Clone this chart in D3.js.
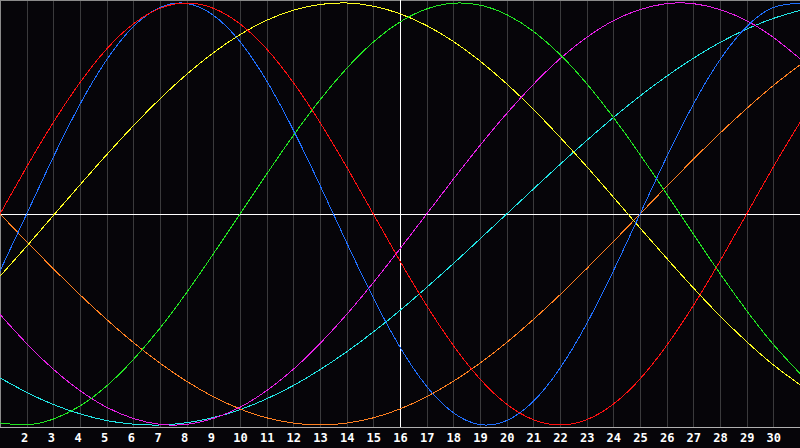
<!DOCTYPE html>
<html><head><meta charset="utf-8">
<script src="https://cdn.jsdelivr.net/npm/d3@7"></script>
<style>
html,body{margin:0;padding:0;background:#060509;}
svg{display:block;}
</style></head>
<body>
<svg id="chart" width="800" height="448"></svg>
<script>
const days = d3.range(1, 32);
const tickLabels = [2,3,4,5,6,7,8,9,10,11,12,13,14,15,16,17,18,19,20,21,22,23,24,25,26,27,28,29,30];
const todayMark = 16;

const physical = [-0.270,0,0.270,0.520,0.731,0.888,0.979,0.998,0.942,0.817,0.631,0.398,0.136,-0.136,-0.398,-0.631,-0.817,-0.942,-0.998,-0.979,-0.888,-0.731,-0.520,-0.270,0,0.270,0.520,0.731,0.888,0.979,0.998];
const emotional = [0,0.223,0.434,0.623,0.782,0.901,0.975,1,0.975,0.901,0.782,0.623,0.434,0.223,0,-0.223,-0.434,-0.623,-0.782,-0.901,-0.975,-1,-0.975,-0.901,-0.782,-0.623,-0.434,-0.223,0,0.223,0.434];
const intellectual = [-0.990,-0.999,-0.972,-0.910,-0.815,-0.690,-0.541,-0.372,-0.189,0,0.189,0.372,0.541,0.690,0.815,0.910,0.972,0.999,0.990,0.945,0.866,0.756,0.618,0.458,0.282,0.095,-0.095,-0.282,-0.458,-0.618,-0.756];
const intuitive = [-0.476,-0.614,-0.736,-0.837,-0.916,-0.969,-0.997,-0.997,-0.969,-0.916,-0.837,-0.736,-0.614,-0.476,-0.325,-0.165,0,0.165,0.325,0.476,0.614,0.736,0.837,0.916,0.969,0.997,0.997,0.969,0.916,0.837,0.736];
const aesthetic = [-0.295,-0.153,-0.007,0.138,0.281,0.418,0.546,0.662,0.764,0.850,0.918,0.966,0.993,1.000,0.985,0.949,0.893,0.818,0.725,0.617,0.496,0.364,0.225,0.080,-0.066,-0.210,-0.350,-0.483,-0.605,-0.715,-0.809];
const awareness = [0,-0.131,-0.259,-0.383,-0.500,-0.609,-0.707,-0.793,-0.866,-0.924,-0.966,-0.991,-1,-0.991,-0.966,-0.924,-0.866,-0.793,-0.707,-0.609,-0.500,-0.383,-0.259,-0.131,0,0.131,0.259,0.383,0.500,0.609,0.707];
const spiritual = [-0.777,-0.845,-0.903,-0.947,-0.979,-0.996,-1.000,-0.989,-0.965,-0.927,-0.876,-0.813,-0.738,-0.653,-0.559,-0.457,-0.348,-0.235,-0.118,0,0.118,0.235,0.348,0.457,0.559,0.653,0.738,0.813,0.876,0.927,0.965];

const series = [
  {name:"spiritual", values:spiritual, color:"#22e6e6"},
  {name:"awareness", values:awareness, color:"#ff8020"},
  {name:"aesthetic", values:aesthetic, color:"#ffff20"},
  {name:"intuitive", values:intuitive, color:"#e620e6"},
  {name:"intellectual", values:intellectual, color:"#22e622"},
  {name:"physical", values:physical, color:"#2070ff"},
  {name:"emotional", values:emotional, color:"#ff1010"}
];

const W = 800, H = 448, axisY = 427.5;
const svg = d3.select("#chart");
svg.append("rect").attr("width", W).attr("height", H).attr("fill", "#060509");

const x = d3.scaleLinear().domain([1, 31]).range([0, 800]);
const y = d3.scaleLinear().domain([-1, 1]).range([425, 3]);

// grid
svg.append("g").selectAll("line").data(tickLabels).join("line")
  .attr("x1", d => Math.round(x(d)) + 0.5).attr("x2", d => Math.round(x(d)) + 0.5)
  .attr("y1", 0).attr("y2", axisY)
  .attr("stroke", "#3a3a3c").attr("stroke-width", 1);

// borders
svg.append("line").attr("x1", 0).attr("x2", W).attr("y1", 0.5).attr("y2", 0.5).attr("stroke", "#8a8a8a");
svg.append("line").attr("x1", 0.5).attr("x2", 0.5).attr("y1", 0).attr("y2", axisY).attr("stroke", "#8a8a8a");

// zero line and today marker
svg.append("line").attr("x1", 0).attr("x2", W)
  .attr("y1", Math.round(y(0)) + 0.5).attr("y2", Math.round(y(0)) + 0.5)
  .attr("stroke", "#ffffff");
svg.append("line").attr("x1", Math.round(x(todayMark)) + 0.5).attr("x2", Math.round(x(todayMark)) + 0.5)
  .attr("y1", 0).attr("y2", axisY).attr("stroke", "#ffffff");

// curves
const line = d3.line().x((d, i) => x(days[i])).y(d => y(d)).curve(d3.curveNatural);
svg.append("g").selectAll("path").data(series).join("path")
  .attr("d", s => line(s.values))
  .attr("fill", "none").attr("stroke", s => s.color).attr("stroke-width", 1)
  .attr("shape-rendering", "crispEdges");

// bottom axis
const axis = d3.axisBottom(x).tickValues(tickLabels).tickSize(0).tickPadding(6).tickFormat(d3.format("d"));
const ag = svg.append("g").attr("transform", `translate(0,${axisY})`).call(axis);
ag.select(".domain").attr("stroke", "#b0b0b0").attr("d", `M0,0H${W}`);
ag.selectAll("text")
  .attr("fill", "#ffffff")
  .attr("dx", d => d < 10 ? -2.5 : 0)
  .style("font-family", "'DejaVu Sans Mono', monospace")
  .style("font-weight", "bold")
  .style("font-size", "12px");
</script>
</body></html>
